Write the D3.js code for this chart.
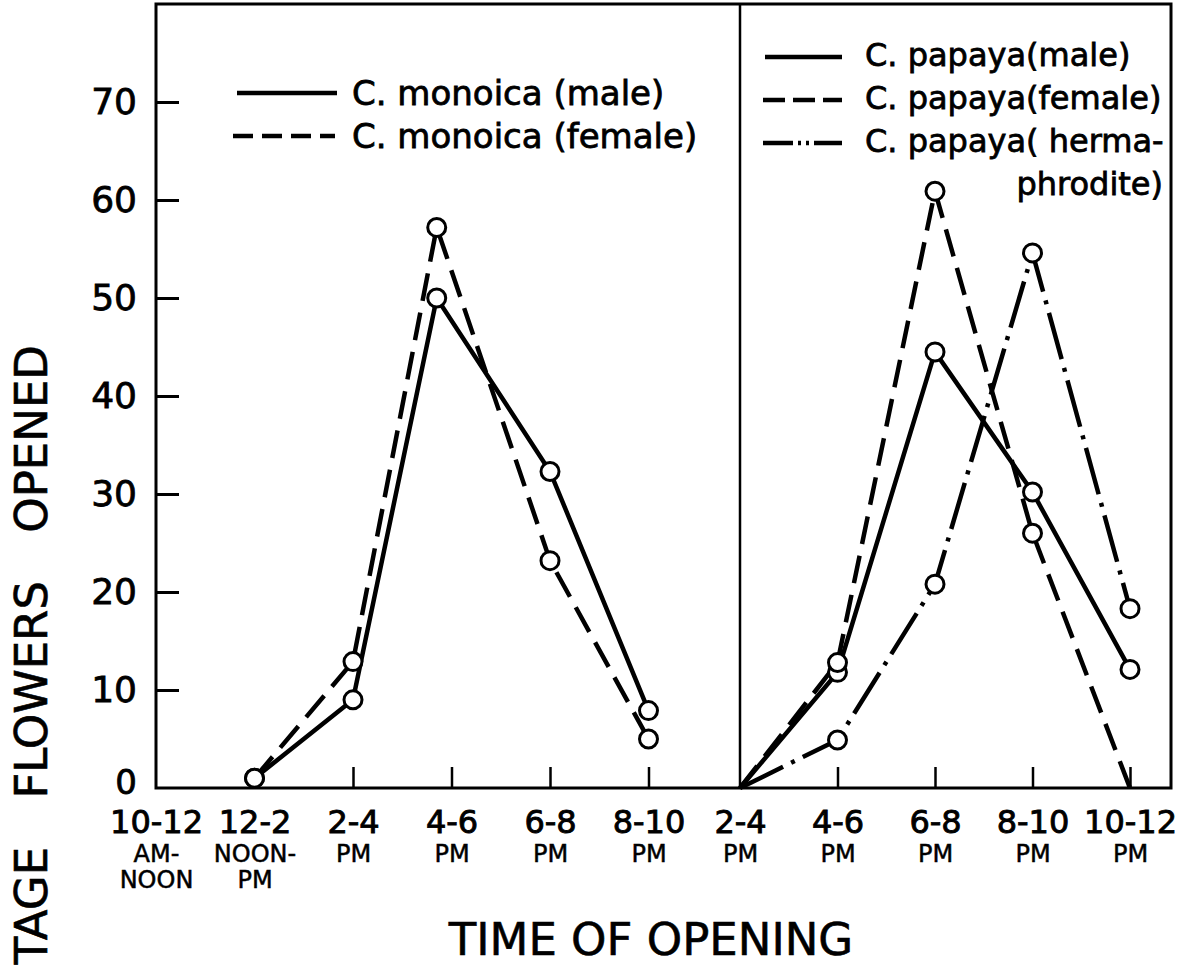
<!DOCTYPE html>
<html><head><meta charset="utf-8">
<script src="https://cdn.jsdelivr.net/npm/d3@7"></script>
<style>
body{margin:0;background:#fff}
svg{display:block}
text{font-family:"DejaVu Sans",sans-serif;fill:#000}
</style>
</head><body>
<svg id="c" width="1186" height="965"></svg>
<script>
// ---- data ----
const leftCategories = ["10-12","12-2","2-4","4-6","6-8","8-10"];
const leftSubLabels = [["AM-","NOON"],["NOON-","PM"],["PM"],["PM"],["PM"],["PM"]];
const rightCategories = ["2-4","4-6","6-8","8-10","10-12"];
const rightSubLabels = [["PM"],["PM"],["PM"],["PM"],["PM"]];
const yTickValues = [0,10,20,30,40,50,60,70];

// C. monoica (left panel); x = position on time axis (category index)
const monoicaX      = [1, 2, 2.85, 4, 5];
const monoicaMale   = [1, 9.0, 50.0, 32.3, 7.9];
const monoicaFemale = [1, 12.9, 57.2, 23.2, 5.0];

// C. papaya (right panel)
const papayaX      = [0, 1, 2, 3, 4];
const papayaMale   = [0, 11.8, 44.5, 30.2, 12.1];
const papayaFemale = [0, 12.8, 60.9, 26.0, 0];
const papayaHerm   = [0, 4.9, 20.8, 54.6, 18.3];

const leftLegend  = ["C. monoica (male)", "C. monoica (female)"];
const rightLegend = ["C. papaya(male)", "C. papaya(female)", "C. papaya( herma-", "phrodite)"];
const yTitle = "PERCENTAGE FLOWERS OPENED";
const xTitle = "TIME OF OPENING";

// ---- layout ----
const svg = d3.select("#c");
const pTop = 4, pBottom = 788, pLeft = 156, pDivider = 740, pRight = 1171;
const y  = d3.scaleLinear().domain([0, 80]).range([pBottom, pTop]);
const xL = d3.scaleLinear().domain([0, 5]).range([pLeft, 648.5]);
const xR = d3.scaleLinear().domain([0, 4]).range([pDivider, 1130]);

const DASH = "28,12", DASHDOT = "48,9,4,9";

// frame
const frame = svg.append("g").attr("stroke","#000").attr("stroke-width",3).attr("fill","none");
frame.append("rect").attr("x",pLeft).attr("y",pTop).attr("width",pRight-pLeft).attr("height",pBottom-pTop);
frame.append("line").attr("x1",pDivider).attr("x2",pDivider).attr("y1",pTop).attr("y2",pBottom).attr("stroke-width",2.5);

// y axis
const yAxis = svg.append("g").attr("transform",`translate(${pLeft},0)`)
  .call(d3.axisLeft(y).tickValues(yTickValues).tickSize(-23).tickPadding(19));
yAxis.select(".domain").remove();
yAxis.selectAll(".tick line").attr("stroke","#000").attr("stroke-width",3)
  .filter(d => d === 0).remove();
yAxis.selectAll(".tick text").attr("font-size",36).attr("font-family",null)
  .attr("stroke","#000").attr("stroke-width",0.8);
yAxis.selectAll(".tick text").filter(d => d === 0).attr("y",-5).attr("font-size",34);

// x axes
function xAxis(scale, cats, subs, tickIdx){
  const g = svg.append("g").attr("transform",`translate(0,${pBottom})`)
    .call(d3.axisBottom(scale).tickValues(d3.range(cats.length)).tickSize(-21).tickPadding(22)
      .tickFormat(i => cats[i]));
  g.select(".domain").remove();
  g.selectAll(".tick line").attr("stroke","#000").attr("stroke-width",2.5)
    .filter(d => !tickIdx.includes(d)).remove();
  g.selectAll(".tick text").attr("font-size",32).attr("font-family",null)
    .attr("stroke","#000").attr("stroke-width",0.9);
  g.selectAll(".tick").each(function(d){
    d3.select(this).selectAll("text.sub").data(subs[d]).join("text").attr("class","sub")
      .attr("text-anchor","middle").attr("font-size",24).attr("fill","#000")
      .attr("stroke","#000").attr("stroke-width",0.5)
      .attr("y",(s,j) => 74 + j*26).text(s => s);
  });
}
xAxis(xL, leftCategories, leftSubLabels, [2,3,4,5]);
xAxis(xR, rightCategories, rightSubLabels, [1,2,3,4]);

// series
function series(scale, xs, vals, dash){
  const pts = xs.map((xv,i) => [xv, vals[i]]);
  svg.append("path").datum(pts)
    .attr("d", d3.line().x(d => scale(d[0])).y(d => y(d[1])))
    .attr("fill","none").attr("stroke","#000").attr("stroke-width",4.5)
    .attr("stroke-dasharray", dash);
  return pts;
}
const circlePts = [];
function addCircles(scale, pts){ pts.filter(p => p[1] > 0).forEach(p => circlePts.push([scale(p[0]), y(p[1])])); }
addCircles(xL, series(xL, monoicaX, monoicaMale, null));
addCircles(xL, series(xL, monoicaX, monoicaFemale, DASH));
addCircles(xR, series(xR, papayaX, papayaMale, null));
addCircles(xR, series(xR, papayaX, papayaFemale, DASH));
addCircles(xR, series(xR, papayaX, papayaHerm, DASHDOT));
svg.append("g").selectAll("circle").data(circlePts).join("circle")
  .attr("cx", d => d[0]).attr("cy", d => d[1]).attr("r", 9)
  .attr("fill","#fff").attr("stroke","#000").attr("stroke-width",3);

// legends
const lg = svg.append("g");
lg.append("line").attr("x1",237).attr("x2",337).attr("y1",93).attr("y2",93).attr("stroke","#000").attr("stroke-width",4.5);
lg.append("line").attr("x1",233).attr("x2",335).attr("y1",136).attr("y2",136).attr("stroke","#000").attr("stroke-width",4.5).attr("stroke-dasharray","20,9");
lg.selectAll("text.l").data(leftLegend).join("text").attr("class","l")
  .attr("x",352).attr("y",(d,i) => 105 + i*43).attr("font-size",34)
  .attr("stroke","#000").attr("stroke-width",0.8).text(d => d);

lg.append("line").attr("x1",765).attr("x2",842).attr("y1",57).attr("y2",57).attr("stroke","#000").attr("stroke-width",4.5);
lg.append("line").attr("x1",763).attr("x2",842).attr("y1",100).attr("y2",100).attr("stroke","#000").attr("stroke-width",4.5).attr("stroke-dasharray","22,8");
lg.append("line").attr("x1",763).attr("x2",842).attr("y1",143).attr("y2",143).attr("stroke","#000").attr("stroke-width",4.5).attr("stroke-dasharray","30,5,3,5,3,5,30");
lg.selectAll("text.r").data(rightLegend).join("text").attr("class","r")
  .attr("x",(d,i) => i < 3 ? 865 : 1163).attr("text-anchor",(d,i) => i < 3 ? "start" : "end")
  .attr("y",(d,i) => 66 + i*43).attr("font-size",32)
  .attr("stroke","#000").attr("stroke-width",0.8).text(d => d);

// titles
svg.append("text").attr("transform","translate(47,345) rotate(-90)")
  .attr("text-anchor","end").attr("font-size",45).style("word-spacing","34px")
  .attr("stroke","#000").attr("stroke-width",0.6).text(yTitle);
svg.append("text").attr("x",651).attr("y",955).attr("text-anchor","middle")
  .attr("font-size",45).attr("stroke","#000").attr("stroke-width",0.6).text(xTitle);
</script>
</body></html>
